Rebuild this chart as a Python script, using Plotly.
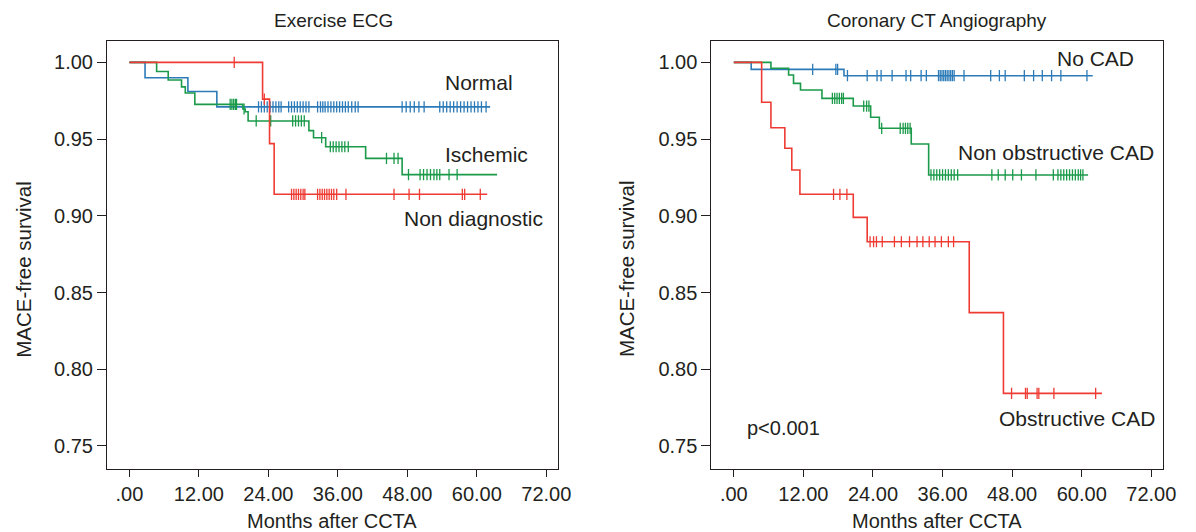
import plotly.graph_objects as go

# ---------------- data ----------------
x_ticks = [0, 12, 24, 36, 48, 60, 72]
x_ticktext = [".00", "12.00", "24.00", "36.00", "48.00", "60.00", "72.00"]
y_ticks = [0.75, 0.80, 0.85, 0.90, 0.95, 1.00]
y_ticktext = ["0.75", "0.80", "0.85", "0.90", "0.95", "1.00"]

# Left panel: Exercise ECG
normal_t = [0, 2.7, 10.1, 15.1, 62.3]
normal_s = [1.0, 0.990, 0.981, 0.971, 0.971]
normal_cens = [22.3, 22.8, 23.3, 23.8, 24.3, 24.8, 25.3, 25.8, 26.2, 27.5, 28.0, 28.5, 29.0,
               29.5, 30.0, 30.5, 31.0, 32.5, 33.0, 33.4, 33.8, 34.3, 34.8, 35.3, 35.8, 36.3,
               36.8, 37.3, 37.8, 38.4, 39.0, 39.5, 47.1, 47.8, 48.5, 49.2, 50.0, 50.9, 53.6,
               54.2, 54.8, 55.4, 56.0, 56.6, 57.2, 57.8, 58.4, 59.0, 59.6, 60.2, 60.8, 61.6]

ischemic_t = [0, 4.7, 6.7, 9.0, 9.65, 11.3, 19.6, 20.0, 20.5, 31.0, 31.8, 33.9, 40.8, 47.1, 63.5]
ischemic_s = [1.0, 0.994, 0.9885, 0.984, 0.980, 0.9726, 0.9696, 0.9678, 0.9618, 0.9555,
              0.9509, 0.945, 0.9374, 0.9268, 0.9268]
ischemic_cens = [17.4, 17.7, 18.0, 18.3, 18.5, 19.8, 21.9, 24.4, 28.2, 28.7, 29.2, 29.7, 30.2,
                 33.2, 34.7, 35.2, 35.7, 36.2, 36.7, 37.2, 37.8, 44.4, 45.7, 46.4, 48.2, 50.2,
                 50.8, 51.4, 52.0, 52.6, 53.1, 53.6, 55.2, 56.6]

nondiag_t = [0, 23.0, 24.2, 25.0, 61.8]
nondiag_s = [1.0, 0.976, 0.947, 0.914, 0.914]
nondiag_cens = [18.1, 23.3, 28.0, 28.4, 28.8, 29.2, 29.6, 30.0, 30.3, 32.5, 32.9, 33.3, 33.7,
                34.1, 34.5, 34.9, 35.3, 35.8, 37.4, 45.7, 48.3, 50.1, 57.5, 57.9, 60.6]

# Right panel: Coronary CT Angiography
nocad_t = [0, 3.0, 19.0, 61.9]
nocad_s = [1.0, 0.9954, 0.9913, 0.9913]
nocad_cens = [13.6, 17.6, 17.9, 19.6, 23.0, 24.7, 25.4, 27.3, 29.7, 30.5, 32.3, 33.2, 35.3,
              35.6, 35.9, 36.2, 36.5, 36.8, 37.1, 37.4, 37.7, 38.0, 39.7, 44.3, 45.8, 46.8,
              50.1, 51.7, 53.2, 54.8, 56.4, 60.9]

nonobs_t = [0, 6.4, 9.45, 10.3, 11.5, 15.2, 20.6, 23.6, 25.1, 30.6, 33.6, 61.1]
nonobs_s = [1.0, 0.9961, 0.9917, 0.9863, 0.982, 0.9765, 0.9715, 0.9642, 0.957, 0.9468,
            0.9266, 0.9266]
nonobs_cens = [17.0, 17.4, 17.8, 18.2, 18.6, 18.9, 22.4, 22.9, 23.3, 25.5, 28.7, 29.2, 29.6,
               30.0, 30.4, 34.0, 34.5, 35.0, 35.5, 36.0, 36.5, 37.0, 37.5, 38.0, 38.6, 44.5,
               45.6, 46.8, 48.1, 49.6, 52.1, 55.1, 55.9, 56.4, 56.9, 57.4, 57.9, 58.4, 58.9,
               59.4, 59.8, 60.2]

obs_t = [0, 4.8, 6.4, 8.8, 10.0, 11.4, 20.6, 23.0, 40.6, 46.5, 63.5]
obs_s = [1.0, 0.974, 0.9574, 0.944, 0.9298, 0.914, 0.899, 0.8831, 0.8369, 0.7843, 0.7843]
obs_cens = [17.2, 18.3, 19.5, 23.5, 24.1, 24.6, 25.6, 27.7, 28.9, 30.3, 31.6, 32.6, 33.7,
            34.7, 35.8, 37.0, 37.9, 47.9, 50.3, 50.6, 52.3, 52.6, 55.2, 62.4]

# ---------------- styling ----------------
BLUE = "#2c7bb8"
GREEN = "#1b9a4a"
RED = "#ee3b33"
INK = "#231f20"
FONT = "Liberation Sans, Arial, sans-serif"
W, H = 1196, 532


def px(x):
    return x / W


def py(y):
    return 1 - y / H


def step_at(times, surv, t):
    val = surv[0]
    for ti, si in zip(times, surv):
        if ti <= t:
            val = si
        else:
            break
    return val


fig = go.Figure()


def add_curve(times, surv, cens, color, xa, ya):
    fig.add_trace(go.Scatter(x=times, y=surv, mode="lines", line=dict(color=color, width=1.6, shape="hv"),
                             xaxis=xa, yaxis=ya, showlegend=False, hoverinfo="skip"))
    fig.add_trace(go.Scatter(x=cens, y=[step_at(times, surv, c) for c in cens], mode="markers",
                             marker=dict(symbol="line-ns", size=8, color=color,
                                         line=dict(color=color, width=1.3)),
                             xaxis=xa, yaxis=ya, showlegend=False, hoverinfo="skip"))


add_curve(normal_t, normal_s, normal_cens, BLUE, "x", "y")
add_curve(ischemic_t, ischemic_s, ischemic_cens, GREEN, "x", "y")
add_curve(nondiag_t, nondiag_s, nondiag_cens, RED, "x", "y")

add_curve(nocad_t, nocad_s, nocad_cens, BLUE, "x2", "y2")
add_curve(nonobs_t, nonobs_s, nonobs_cens, GREEN, "x2", "y2")
add_curve(obs_t, obs_s, obs_cens, RED, "x2", "y2")

x_range = [-3.85, 74.0]
y_range = [0.7348, 1.0141]
ydom = [py(469.3), py(40.7)]

xcommon = dict(range=x_range, tickvals=x_ticks, ticktext=x_ticktext, showline=True, mirror=True,
               linecolor=INK, linewidth=1.3, ticks="outside", ticklen=7, tickwidth=1.2,
               tickcolor=INK, showgrid=False, zeroline=False,
               tickfont=dict(family=FONT, size=20, color=INK))
ycommon = dict(range=y_range, tickvals=y_ticks, ticktext=y_ticktext, showline=True, mirror=True,
               linecolor=INK, linewidth=1.3, ticks="outside", ticklen=9, tickwidth=1.2,
               tickcolor=INK, showgrid=False, zeroline=False,
               tickfont=dict(family=FONT, size=20, color=INK))

fig.update_layout(
    width=W, height=H, margin=dict(l=0, r=0, t=0, b=0),
    paper_bgcolor="white", plot_bgcolor="white",
    xaxis=dict(domain=[px(108.3), px(564)], anchor="y", **xcommon),
    yaxis=dict(domain=ydom, anchor="x", **ycommon),
    xaxis2=dict(domain=[px(719.3), px(1175.7)], anchor="y2", **xcommon),
    yaxis2=dict(domain=ydom, anchor="x2", **ycommon),
)

annots = [
    # titles
    ("Exercise ECG", 337, 20, 19, "center", 0),
    ("Coronary CT Angiography", 947, 20, 19, "center", 0),
    # axis titles
    ("Months after CCTA", 336, 521, 20, "center", 0),
    ("Months after CCTA", 947, 521, 20, "center", 0),
    ("MACE-free survival", 23, 269, 20.5, "center", -90),
    ("MACE-free survival", 633, 269, 20.5, "center", -90),
    # curve labels
    ("Normal", 447.5, 82, 21, "left", 0),
    ("Ischemic", 448, 155, 21, "left", 0),
    ("Non diagnostic", 406.5, 218, 21, "left", 0),
    ("No CAD", 1066.5, 59, 21, "left", 0),
    ("Non obstructive CAD", 966, 152, 21, "left", 0),
    ("Obstructive CAD", 1007.5, 418, 21, "left", 0),
    ("p<0.001", 753, 428, 20, "left", 0),
]
for text, x, y, size, anchor, ang in annots:
    fig.add_annotation(text=text, x=px(x), y=py(y), xref="paper", yref="paper",
                       xanchor=anchor, yanchor="middle", showarrow=False, textangle=ang,
                       font=dict(family=FONT, size=size, color=INK))

fig.write_html("out.html")
